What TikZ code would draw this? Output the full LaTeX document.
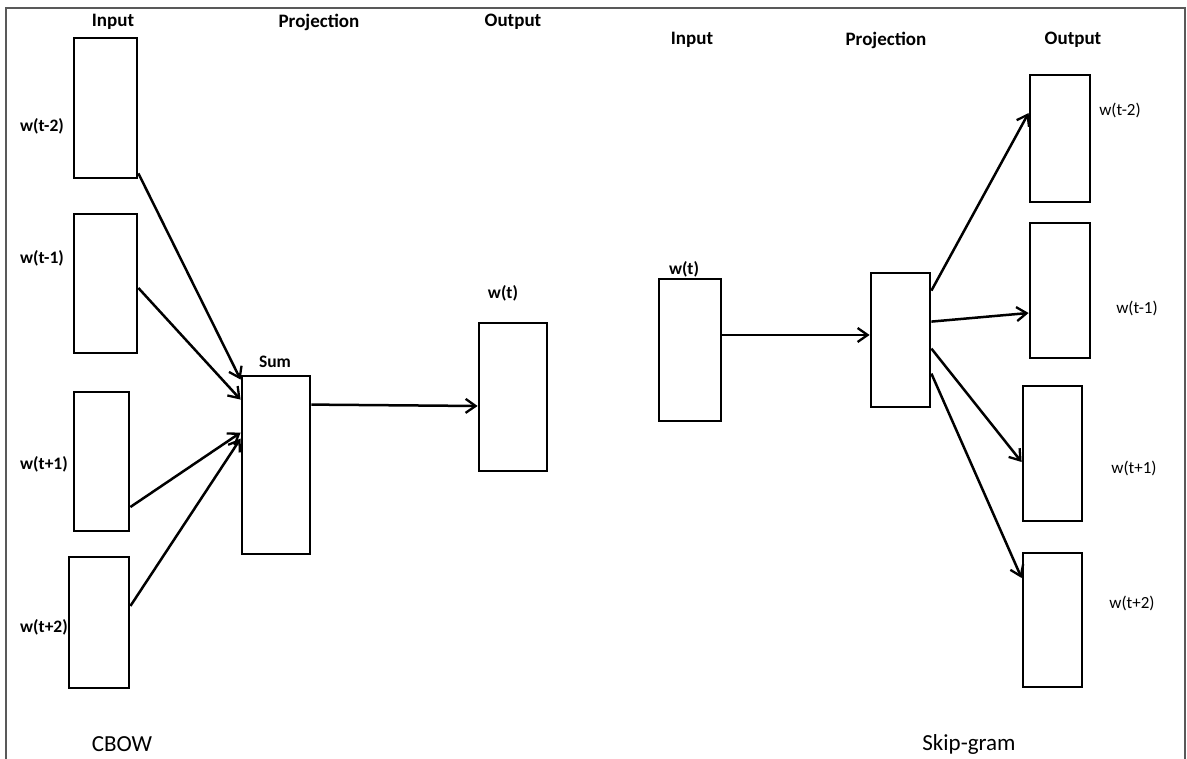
\documentclass[tikz,border=0pt]{standalone}
\usepackage{fontspec}
\setmainfont{Carlito}
\usetikzlibrary{arrows.meta,calc}
\begin{document}
\begin{tikzpicture}[x=1pt,y=-1pt,
  box/.style={draw=black,line width=2.8pt,rectangle,inner sep=0pt},
  conn/.style={draw=black,line width=2.5pt,-{Straight Barb[length=10pt,width=14pt,line width=2.3pt]}},
  hdr/.style={font=\fontsize{19}{22}\selectfont\bfseries,inner sep=0pt},
  lblb/.style={font=\fontsize{17.5}{21}\selectfont\bfseries,inner sep=0pt},
  lblr/.style={font=\fontsize{17}{20}\selectfont,inner sep=0pt},
  captext/.style={font=\fontsize{23}{27}\selectfont,inner sep=0pt}]
\useasboundingbox (0,0) rectangle (1187,759);
\draw[line width=1.8pt,draw=black!65] (6,759) -- (6,8) -- (1185,8) -- (1185,759);
% CBOW
\node[box,minimum width=63pt,minimum height=140pt] (in1) at (105.5,108) {};
\node[box,minimum width=63pt,minimum height=139pt] (in2) at (105.5,283.5) {};
\node[box,minimum width=55pt,minimum height=139pt] (in3) at (101.5,461.5) {};
\node[box,minimum width=60pt,minimum height=131pt] (in4) at (99,622.5) {};
\node[box,minimum width=68pt,minimum height=178pt] (sum) at (276,465) {};
\node[box,minimum width=68pt,minimum height=148pt] (out) at (513,397) {};
\node[hdr] (t1) at (113,22) {Input};
\node[hdr] (t2) at (319,22) {Projection};
\node[hdr] (t3) at (513,22) {Output};
\node[lblb] (l1) at (42,126) {w(t-2)};
\node[lblb] (l2) at (42,258) {w(t-1)};
\node[lblb] (l3) at (44,464) {w(t+1)};
\node[lblb] (l4) at (44,627) {w(t+2)};
\node[lblb] (ls) at (275,362) {Sum};
\node[lblb] (lo) at (503,293) {w(t)};
\node[captext] (cb) at (122,744) {CBOW};
\draw[conn] ($(in1.south east)+(0,-6)$) -- ($(sum.north west)+(0,5)$);
\draw[conn] ($(in2.east)+(0,4.5)$) -- ($(sum.north west)+(0,25)$);
\draw[conn] ($(in3.east)+(0,45.5)$) -- ($(sum.north west)+(0,58)$);
\draw[conn] ($(in4.east)+(0,-16.5)$) -- ($(sum.north west)+(0,64)$);
\draw[conn] ($(sum.north east)+(0,30)$) -- ($(out.west)+(0,9)$);
% Skip-gram
\node[box,minimum width=62pt,minimum height=142pt] (sin) at (690,350) {};
\node[box,minimum width=59pt,minimum height=134pt] (sp) at (900.5,340) {};
\node[box,minimum width=60pt,minimum height=127pt] (o1) at (1060,138.5) {};
\node[box,minimum width=60pt,minimum height=135pt] (o2) at (1060,290.5) {};
\node[box,minimum width=59pt,minimum height=135pt] (o3) at (1052.5,453.5) {};
\node[box,minimum width=59pt,minimum height=134pt] (o4) at (1052.5,620) {};
\node[hdr] (u1) at (692,40) {Input};
\node[hdr] (u2) at (886,40) {Projection};
\node[hdr] (u3) at (1073,40) {Output};
\node[lblb] (lw) at (684,269) {w(t)};
\node[lblr] (r1) at (1120,110) {w(t-2)};
\node[lblr] (r2) at (1137,308) {w(t-1)};
\node[lblr] (r3) at (1134,468) {w(t+1)};
\node[lblr] (r4) at (1132,603) {w(t+2)};
\node[captext] (sg) at (969,744) {Skip-gram};
\draw[conn] ($(sin.east)+(0,-15)$) -- ($(sp.west)+(0,-5)$);
\draw[conn] ($(sp.north east)+(0,19)$) -- ($(o1.west)+(0,-25.5)$);
\draw[conn] ($(sp.north east)+(0,50)$) -- ($(o2.west)+(0,22.5)$);
\draw[conn] ($(sp.north east)+(0,77)$) -- ($(o3.west)+(0,8.5)$);
\draw[conn] ($(sp.north east)+(0,102)$) -- ($(o4.west)+(0,-42)$);
\end{tikzpicture}
\end{document}
